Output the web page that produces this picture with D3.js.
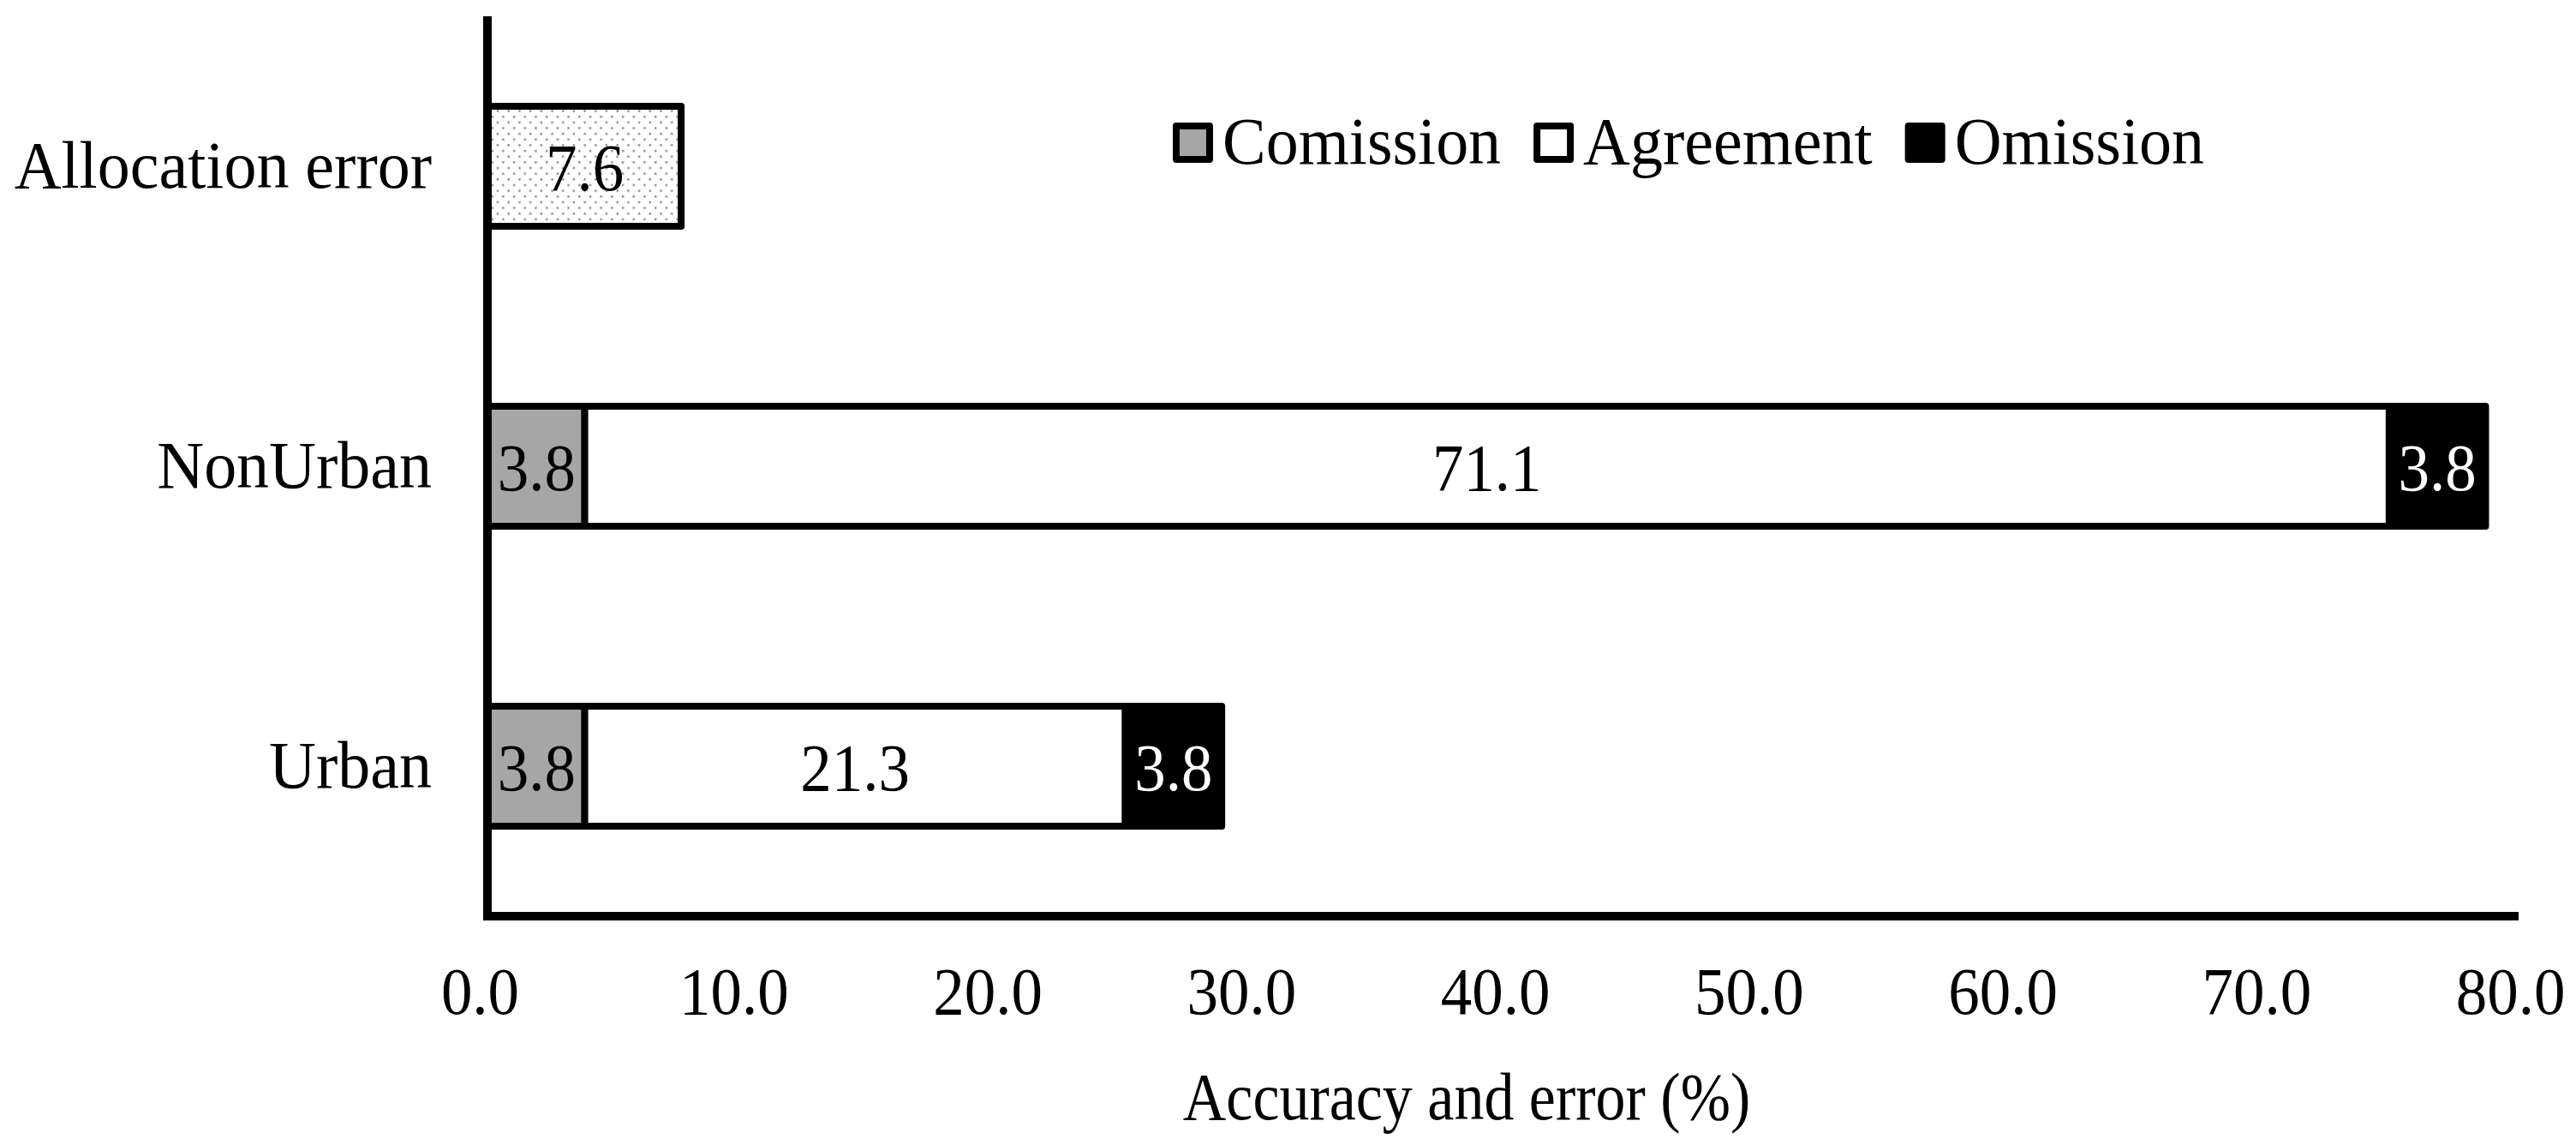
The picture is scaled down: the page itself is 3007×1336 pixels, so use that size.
<!DOCTYPE html>
<html>
<head>
<meta charset="utf-8">
<script src="https://cdn.jsdelivr.net/npm/d3@7"></script>
<style>
  html, body { margin: 0; padding: 0; background: #fff; }
  svg { display: block; }
  text { font-family: "Liberation Serif", "Times New Roman", serif; fill: #000; }
</style>
</head>
<body>
<svg id="chart" width="3007" height="1336"></svg>
<script>
// ---- data ----
const categories = ["Allocation error", "NonUrban", "Urban"];
const series = ["Comission", "Agreement", "Omission"];
const comission = [null, 3.8, 3.8];
const agreement = [null, 71.1, 21.3];
const omission = [null, 3.8, 3.8];
const allocationError = [7.6, null, null];
const xTicks = [0, 10, 20, 30, 40, 50, 60, 70, 80];
const xTitle = "Accuracy and error (%)";

(function () {
// ---- layout ----
const pLeft = 570, pRight = 2940, pTop = 19, pBottom = 1069;
const FS = 73;      // value & tick labels
const FS_CAT = 76;  // category & legend labels
const FS_TITLE = 70;
const SY = 1.08;

const svg = d3.select("#chart");
const x = d3.scaleLinear().domain([0, 80]).range([pLeft, pRight]);
const y = d3.scaleBand().domain(categories).range([pTop, pBottom]).paddingInner(0.6).paddingOuter(0.3);

// dotted pattern
const defs = svg.append("defs");
const pat = defs.append("pattern").attr("id", "dots").attr("patternUnits", "userSpaceOnUse")
  .attr("width", 12.7).attr("height", 13.3);
pat.append("rect").attr("width", 12.7).attr("height", 13.3).attr("fill", "#fff");
pat.append("rect").attr("x", 2).attr("y", 2).attr("width", 2.4).attr("height", 2.4).attr("fill", "#8a8a8a");
pat.append("rect").attr("x", 8.35).attr("y", 8.65).attr("width", 2.4).attr("height", 2.4).attr("fill", "#8a8a8a");

function txt(g, tx, ty, s, anchor, fill, fs, sy) {
  return g.append("text")
    .attr("transform", `translate(${tx},${ty}) scale(1,${sy || SY})`)
    .attr("text-anchor", anchor || "middle")
    .attr("font-size", fs || FS)
    .style("fill", fill || "#000")
    .text(s);
}

// build stacked segments
const segs = [];
categories.forEach((c, i) => {
  if (allocationError[i] != null) {
    segs.push({cat: c, x0: 0, x1: allocationError[i], fill: "url(#dots)", label: allocationError[i], lc: "#000"});
  }
  let acc = 0;
  [[comission, "#a6a6a6", "#000"], [agreement, "#ffffff", "#000"], [omission, "#000000", "#fff"]].forEach(([arr, f, lc]) => {
    const v = arr[i];
    if (v == null) return;
    segs.push({cat: c, x0: acc, x1: acc + v, fill: f, label: v, lc: lc});
    acc += v;
  });
});

const gBars = svg.append("g");
gBars.selectAll("rect").data(segs).join("rect")
  .attr("x", d => x(d.x0))
  .attr("y", d => y(d.cat))
  .attr("width", d => x(d.x1) - x(d.x0))
  .attr("height", y.bandwidth())
  .attr("fill", d => d.fill)
  .attr("stroke", "#000")
  .attr("stroke-width", 8)
  .attr("stroke-linejoin", "round");

const gLab = svg.append("g");
segs.forEach(d => {
  txt(gLab, (x(d.x0) + x(d.x1)) / 2, y(d.cat) + y.bandwidth() / 2 + 28, d3.format(".1f")(d.label), "middle", d.lc);
});

// axes lines
svg.append("line").attr("x1", x(0) - 1).attr("x2", x(0) - 1)
  .attr("y1", pTop).attr("y2", pBottom + 5).attr("stroke", "#000").attr("stroke-width", 10);
svg.append("line").attr("x1", x(0) - 6).attr("x2", x(80))
  .attr("y1", pBottom).attr("y2", pBottom).attr("stroke", "#000").attr("stroke-width", 10);

// x axis labels via d3 axis
const xAxis = d3.axisBottom(x).tickValues(xTicks).tickSize(0).tickFormat(d3.format(".1f"));
const gx = svg.append("g").attr("transform", `translate(0,${pBottom})`).call(xAxis);
gx.select(".domain").remove();
gx.selectAll(".tick text")
  .attr("font-family", "Liberation Serif, Times New Roman, serif")
  .attr("font-size", FS)
  .attr("fill", "#000")
  .attr("dy", null)
  .attr("y", 0)
  .attr("transform", `translate(-10,114) scale(1,${SY})`);

// y axis labels via d3 axis
const yAxis = d3.axisLeft(y).tickSize(0);
const gy = svg.append("g").attr("transform", `translate(${pLeft},0)`).call(yAxis);
gy.select(".domain").remove();
gy.selectAll(".tick text")
  .attr("font-family", "Liberation Serif, Times New Roman, serif")
  .attr("font-size", FS_CAT)
  .attr("fill", "#000")
  .attr("dy", null)
  .attr("x", 0)
  .attr("transform", `translate(-66,25) scale(1,1.04)`);

// axis title
txt(svg, 1712, 1306, xTitle, "middle", "#000", FS_TITLE, 1.12);

// legend
const legFills = ["#a6a6a6", "#ffffff", "#000000"];
const gLeg = svg.append("g");
let lx = 1373;
series.forEach((s, i) => {
  gLeg.append("rect").attr("x", lx).attr("y", 147).attr("width", 39).attr("height", 39)
    .attr("fill", legFills[i]).attr("stroke", "#000").attr("stroke-width", 8).attr("stroke-linejoin", "round");
  const t = txt(gLeg, lx + 54, 191, s, "start", "#000", FS_CAT, 1.04);
  const w = t.node().getComputedTextLength();
  lx = lx + 54 + w + 42;
});
})();
</script>
</body>
</html>
